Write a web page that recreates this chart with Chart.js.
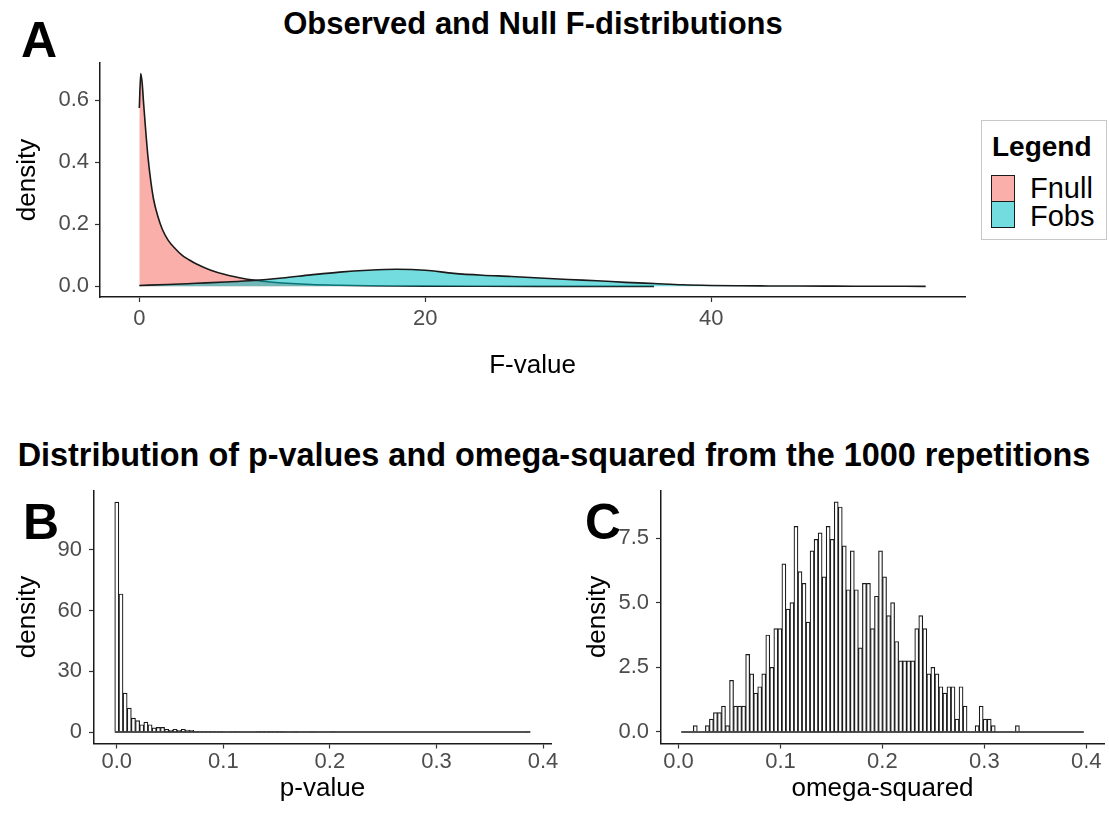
<!DOCTYPE html>
<html>
<head>
<meta charset="utf-8">
<title>Observed and Null F-distributions</title>
<script src="https://cdn.jsdelivr.net/npm/chart.js@4.4.0/dist/chart.umd.min.js"></script>
<style>
  html, body { margin: 0; padding: 0; background: #ffffff; }
  #fig { position: relative; width: 1109px; height: 826px; overflow: hidden;
         font-family: "Liberation Sans", Arial, Helvetica, sans-serif; background: #fff; }
  #fig canvas { position: absolute; }
  .txt { position: absolute; white-space: nowrap; color: #000; line-height: 1; }
  .center { transform: translate(-50%, -50%); }
  .midY { transform: translateY(-50%); }
  .title { font-weight: bold; }
  .panel { font-weight: bold; font-size: 50px; }
  .key { position: absolute; box-sizing: border-box; border: 1.5px solid #1a1a1a; }
</style>
</head>
<body>
<div id="fig">
  <div class="txt panel center" style="left:39px; top:40px;">A</div>
  <div class="txt title center" style="left:533px; top:23px; font-size:31px;">Observed and Null F-distributions</div>
  <canvas id="chartA" width="975" height="360" style="left:0px; top:40px;"></canvas>

  <div style="position:absolute; left:981px; top:120px; width:126px; height:120px; border:1px solid #c8c8c8; box-sizing:border-box;"></div>
  <div class="txt title midY" style="left:992px; top:147px; font-size:28px;">Legend</div>
  <div class="key" id="keyFnull" style="left:991px; top:175px; width:24px; height:27px;"></div>
  <div class="key" id="keyFobs" style="left:991px; top:201px; width:24px; height:27px;"></div>
  <div class="txt midY" style="left:1030px; top:188px; font-size:29px;">Fnull</div>
  <div class="txt midY" style="left:1030px; top:216px; font-size:29px;">Fobs</div>

  <div class="txt title center" style="left:554px; top:455px; font-size:32.4px;">Distribution of p-values and omega-squared from the 1000 repetitions</div>
  <div class="txt panel center" style="left:41px; top:522px;">B</div>
  <div class="txt panel center" style="left:603px; top:522px;">C</div>
  <canvas id="chartB" width="560" height="346" style="left:0px; top:480px;"></canvas>
  <canvas id="chartC" width="539" height="346" style="left:570px; top:480px;"></canvas>
</div>

<script>
// ---- Panel A: kernel density of the null and observed F statistics ----
const fnullF = [0, 0.1, 0.2, 0.3, 0.45, 0.6, 0.8, 1.0, 1.3, 1.6, 2.0, 2.5, 3.0, 3.5, 4.0,
                5.0, 6.0, 7.0, 8.0, 9.0, 10, 12, 14, 16, 18, 20, 24, 28, 32, 36];
const fnullDensity = [0.575, 0.686, 0.655, 0.59, 0.5, 0.42, 0.34, 0.28, 0.225, 0.185, 0.15, 0.122, 0.1, 0.085, 0.072,
                      0.052, 0.038, 0.028, 0.02, 0.015, 0.011, 0.006, 0.0035, 0.002, 0.0012, 0.0007, 0.0003, 0.0001, 0, 0];

const fobsF = [0, 2, 4, 6, 8, 10, 12, 14, 16, 18, 20, 22, 24, 26, 28, 30, 32, 34, 36, 38,
               40, 42, 44, 46, 48, 50, 52, 55];
const fobsDensity = [0.003, 0.006, 0.01, 0.014, 0.019, 0.027, 0.037, 0.046, 0.052, 0.055, 0.052, 0.042, 0.036,
                     0.032, 0.027, 0.022, 0.018, 0.013, 0.009, 0.005, 0.003, 0.002, 0.0014, 0.001, 0.0007,
                     0.0004, 0.0002, 0.0001];

const fTicks = [0, 20, 40];
const fDensityTicks = [0, 0.2, 0.4, 0.6];

// ---- Panel B: histogram of p-values (density scale, 100 bins) ----
const pBinFirstCenter = 0;
const pBinWidth = 0.0039;
const pValueDensity = [
  113.6, 68.2, 19.2, 11.8, 6.9, 5.6, 3.6, 4.9, 3.6, 2.1,
  2.3, 2.3, 1.3, 0.8, 1.3, 0.8, 1.3, 1.0, 0.8, 0.26,
  0.26, 0.26, 0.26, 0.26, 0.26, 0.26, 0, 0, 0.26, 0.26,
  0, 0, 0, 0, 0.26, 0.26, 0.26, 0.26, 0.26, 0.26,
  0.26, 0, 0, 0.26, 0, 0, 0, 0.26, 0, 0,
  0, 0, 0.26, 0, 0, 0, 0, 0, 0, 0,
  0, 0, 0, 0, 0, 0, 0, 0, 0, 0,
  0, 0, 0, 0, 0, 0, 0, 0, 0, 0,
  0, 0, 0, 0, 0, 0, 0, 0, 0, 0,
  0, 0, 0, 0, 0, 0, 0, 0, 0, 0.26
];
const pTicks = [0, 0.1, 0.2, 0.3, 0.4];
const pDensityTicks = [0, 30, 60, 90];

// ---- Panel C: histogram of omega-squared (density scale, 100 bins) ----
const omegaBinFirstCenter = 0.0046;
const omegaBinWidth = 0.00395;
const omegaDensity = [
  0, 0, 0, 0.25, 0, 0, 0.25, 0.5, 0.75, 0.75,
  1.0, 0.25, 2.0, 1.0, 1.0, 1.0, 3.0, 2.25, 1.5, 1.75,
  2.25, 3.75, 2.5, 4.0, 4.0, 6.5, 4.75, 5.0, 7.95, 6.2,
  5.75, 4.25, 7.0, 7.45, 7.7, 6.0, 7.95, 7.45, 8.9, 8.7,
  7.2, 5.5, 7.0, 5.5, 3.25, 5.75, 5.75, 4.0, 5.25, 7.0,
  6.0, 4.5, 5.0, 3.5, 2.75, 2.75, 2.75, 2.75, 4.0, 4.5,
  4.0, 2.25, 2.5, 2.25, 1.75, 1.5, 1.75, 1.75, 0.5, 1.75,
  1.0, 0, 0, 0.25, 1.0, 0.5, 0.5, 0.25, 0, 0,
  0, 0, 0, 0.25, 0, 0, 0, 0, 0, 0,
  0, 0, 0, 0, 0, 0, 0, 0, 0, 0
];
const omegaTicks = [0, 0.1, 0.2, 0.3, 0.4];
const omegaDensityTicks = [0, 2.5, 5.0, 7.5];

// ---- shared styling ----
const FONT = '"Liberation Sans", Arial, Helvetica, sans-serif';
const FNULL_FILL = 'rgba(248,118,109,0.58)';
const FOBS_FILL = 'rgba(0,191,196,0.55)';
const OUTLINE = '#1a1a1a';
Chart.defaults.font.family = FONT;

document.getElementById('keyFnull').style.background = FNULL_FILL;
document.getElementById('keyFobs').style.background = FOBS_FILL;

function axis(cfg) {
  return {
    type: 'linear',
    min: cfg.min,
    max: cfg.max,
    offset: false,
    afterBuildTicks(scale) { scale.ticks = cfg.ticks.map(v => ({ value: v })); },
    afterFit(scale) {
      if (cfg.horizontal) scale.height = cfg.size; else scale.width = cfg.size;
      scale.paddingLeft = 0; scale.paddingRight = 0;
      scale.paddingTop = 0; scale.paddingBottom = 0;
    },
    ticks: {
      autoSkip: false, maxRotation: 0, minRotation: 0,
      color: '#4d4d4d', font: { size: 22 }, padding: cfg.tickPad,
      callback: cfg.format
    },
    grid: {
      display: true, drawOnChartArea: false, drawTicks: true, offset: false,
      tickLength: 5, tickColor: '#333333', tickWidth: 1.2, color: '#333333'
    },
    border: { display: true, color: OUTLINE, width: 1.5 },
    title: { display: true, text: cfg.title, color: '#000', font: { size: 26 }, padding: cfg.titlePad }
  };
}

const baseOptions = (padding, scales) => ({
  responsive: false,
  animation: false,
  devicePixelRatio: 1,
  events: [],
  layout: { padding },
  plugins: { legend: { display: false }, tooltip: { enabled: false } },
  scales
});

const one = v => v.toFixed(1);

// Panel A
new Chart(document.getElementById('chartA'), {
  type: 'line',
  data: {
    datasets: [
      { label: 'Fnull', order: 2, data: fnullF.map((x, i) => ({ x, y: fnullDensity[i] })),
        fill: 'origin', backgroundColor: FNULL_FILL, borderColor: OUTLINE, borderWidth: 1.6,
        pointRadius: 0, cubicInterpolationMode: 'monotone' },
      { label: 'Fobs', order: 1, data: fobsF.map((x, i) => ({ x, y: fobsDensity[i] })),
        fill: 'origin', backgroundColor: FOBS_FILL, borderColor: OUTLINE, borderWidth: 1.6,
        pointRadius: 0, cubicInterpolationMode: 'monotone' }
    ]
  },
  options: baseOptions({ left: 0, top: 23, right: 10, bottom: 0 }, {
    x: axis({ horizontal: true, size: 103, min: -2.75, max: 57.75, ticks: fTicks, tickPad: 4,
              format: v => String(v), title: 'F-value', titlePad: { top: 0, bottom: 19 } }),
    y: axis({ horizontal: false, size: 100, min: -0.0343, max: 0.72, ticks: fDensityTicks, tickPad: 6,
              format: one, title: 'density', titlePad: { top: 12, bottom: 0 } })
  })
});

// Histogram helper for panels B and C
function histogram(canvasId, density, firstCenter, width, xCfg, yCfg, padding) {
  const bins = density.map((y, i) => ({ x: firstCenter + i * width, y }));
  const left = firstCenter - width / 2;
  const right = firstCenter + (density.length - 0.5) * width;
  return new Chart(document.getElementById(canvasId), {
    type: 'bar',
    data: {
      datasets: [
        { type: 'line', order: 0, data: [{ x: left, y: 0 }, { x: right, y: 0 }],
          borderColor: OUTLINE, borderWidth: 1.6, pointRadius: 0, fill: false },
        { type: 'bar', order: 1, data: bins, backgroundColor: '#ffffff', borderColor: OUTLINE,
          borderWidth: 1.2, barPercentage: 1, categoryPercentage: 1 }
      ]
    },
    options: baseOptions(padding, { x: axis(xCfg), y: axis(yCfg) })
  });
}

// Panel B
histogram('chartB', pValueDensity, pBinFirstCenter, pBinWidth,
  { horizontal: true, size: 82.5, min: -0.0214, max: 0.4075, ticks: pTicks, tickPad: 0,
    format: one, title: 'p-value', titlePad: { top: 0, bottom: 22 } },
  { horizontal: false, size: 94, min: -5.68, max: 119.3, ticks: pDensityTicks, tickPad: 7,
    format: v => String(v), title: 'density', titlePad: { top: 12, bottom: 0 } },
  { left: 0, top: 10.6, right: 9, bottom: 0 });

// Panel C
histogram('chartC', omegaDensity, omegaBinFirstCenter, omegaBinWidth,
  { horizontal: true, size: 82.5, min: -0.0172, max: 0.4174, ticks: omegaTicks, tickPad: 0,
    format: one, title: 'omega-squared', titlePad: { top: 0, bottom: 22 } },
  { horizontal: false, size: 91, min: -0.445, max: 9.345, ticks: omegaDensityTicks, tickPad: 7,
    format: one, title: 'density', titlePad: { top: 12, bottom: 0 } },
  { left: 0, top: 10.3, right: 5, bottom: 0 });
</script>
</body>
</html>
